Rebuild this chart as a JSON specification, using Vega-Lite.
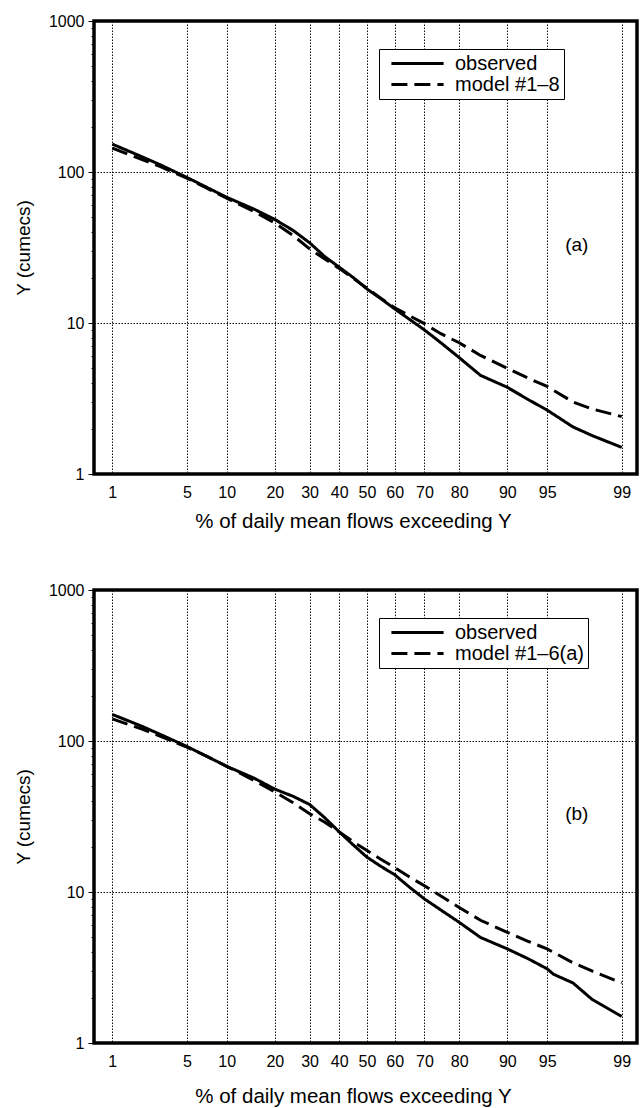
{
  "$schema": "https://vega.github.io/schema/vega-lite/v6.json",
  "padding": {"left": 12, "top": 11, "right": 0, "bottom": 0},
  "background": "white",
  "config": {
    "font": "Liberation Sans",
    "view": {"stroke": "black", "strokeWidth": 3.5},
    "axis": {"labelFont": "Liberation Sans", "titleFont": "Liberation Sans", "labelColor": "black", "titleColor": "black", "titleFontWeight": "normal", "labelFontSize": 16, "titleFontSize": 19, "domain": false},
    "legend": {"title": null, "orient": "none", "legendX": 285, "legendY": 28, "strokeColor": "black", "fillColor": "white", "padding": 4, "labelFontSize": 20, "labelColor": "black", "labelFont": "Liberation Sans", "symbolType": "M-2.9,0L2.9,0", "symbolSize": 324, "symbolStrokeWidth": 3, "symbolStrokeColor": "black", "symbolOffset": 24, "labelOffset": 27, "rowPadding": 0}
  },
  "datasets": {
    "flows": [
      {"panel": "a", "series": "observed", "pct": 1, "q": 153},
      {"panel": "a", "series": "observed", "pct": 2, "q": 126},
      {"panel": "a", "series": "observed", "pct": 3, "q": 111},
      {"panel": "a", "series": "observed", "pct": 5, "q": 92},
      {"panel": "a", "series": "observed", "pct": 7, "q": 80},
      {"panel": "a", "series": "observed", "pct": 10, "q": 68},
      {"panel": "a", "series": "observed", "pct": 15, "q": 57},
      {"panel": "a", "series": "observed", "pct": 20, "q": 48.5},
      {"panel": "a", "series": "observed", "pct": 25, "q": 41},
      {"panel": "a", "series": "observed", "pct": 30, "q": 34},
      {"panel": "a", "series": "observed", "pct": 35, "q": 27.5},
      {"panel": "a", "series": "observed", "pct": 40, "q": 23.4},
      {"panel": "a", "series": "observed", "pct": 45, "q": 20},
      {"panel": "a", "series": "observed", "pct": 50, "q": 16.8},
      {"panel": "a", "series": "observed", "pct": 55, "q": 14.5},
      {"panel": "a", "series": "observed", "pct": 60, "q": 12.4},
      {"panel": "a", "series": "observed", "pct": 65, "q": 10.6},
      {"panel": "a", "series": "observed", "pct": 70, "q": 9.0},
      {"panel": "a", "series": "observed", "pct": 75, "q": 7.4},
      {"panel": "a", "series": "observed", "pct": 80, "q": 5.9},
      {"panel": "a", "series": "observed", "pct": 85, "q": 4.5},
      {"panel": "a", "series": "observed", "pct": 90, "q": 3.75},
      {"panel": "a", "series": "observed", "pct": 93, "q": 3.1},
      {"panel": "a", "series": "observed", "pct": 95, "q": 2.65},
      {"panel": "a", "series": "observed", "pct": 97, "q": 2.05},
      {"panel": "a", "series": "observed", "pct": 98, "q": 1.8},
      {"panel": "a", "series": "observed", "pct": 99, "q": 1.5},
      {"panel": "a", "series": "model #1–8", "pct": 1, "q": 144},
      {"panel": "a", "series": "model #1–8", "pct": 2, "q": 121},
      {"panel": "a", "series": "model #1–8", "pct": 3, "q": 108},
      {"panel": "a", "series": "model #1–8", "pct": 5, "q": 91},
      {"panel": "a", "series": "model #1–8", "pct": 7, "q": 79},
      {"panel": "a", "series": "model #1–8", "pct": 10, "q": 67},
      {"panel": "a", "series": "model #1–8", "pct": 15, "q": 55},
      {"panel": "a", "series": "model #1–8", "pct": 20, "q": 46},
      {"panel": "a", "series": "model #1–8", "pct": 25, "q": 38},
      {"panel": "a", "series": "model #1–8", "pct": 30, "q": 31},
      {"panel": "a", "series": "model #1–8", "pct": 35, "q": 26.5},
      {"panel": "a", "series": "model #1–8", "pct": 40, "q": 23},
      {"panel": "a", "series": "model #1–8", "pct": 45, "q": 19.8},
      {"panel": "a", "series": "model #1–8", "pct": 50, "q": 17},
      {"panel": "a", "series": "model #1–8", "pct": 55, "q": 14.6},
      {"panel": "a", "series": "model #1–8", "pct": 60, "q": 12.6},
      {"panel": "a", "series": "model #1–8", "pct": 65, "q": 11.2},
      {"panel": "a", "series": "model #1–8", "pct": 70, "q": 9.9},
      {"panel": "a", "series": "model #1–8", "pct": 75, "q": 8.5},
      {"panel": "a", "series": "model #1–8", "pct": 80, "q": 7.4},
      {"panel": "a", "series": "model #1–8", "pct": 85, "q": 6.1},
      {"panel": "a", "series": "model #1–8", "pct": 90, "q": 5.0},
      {"panel": "a", "series": "model #1–8", "pct": 93, "q": 4.3},
      {"panel": "a", "series": "model #1–8", "pct": 95, "q": 3.8},
      {"panel": "a", "series": "model #1–8", "pct": 97, "q": 3.0},
      {"panel": "a", "series": "model #1–8", "pct": 98, "q": 2.7},
      {"panel": "a", "series": "model #1–8", "pct": 99, "q": 2.4},
      {"panel": "b", "series": "observed", "pct": 1, "q": 150},
      {"panel": "b", "series": "observed", "pct": 2, "q": 125},
      {"panel": "b", "series": "observed", "pct": 3, "q": 110},
      {"panel": "b", "series": "observed", "pct": 5, "q": 92},
      {"panel": "b", "series": "observed", "pct": 7, "q": 80},
      {"panel": "b", "series": "observed", "pct": 10, "q": 68},
      {"panel": "b", "series": "observed", "pct": 15, "q": 57},
      {"panel": "b", "series": "observed", "pct": 20, "q": 48},
      {"panel": "b", "series": "observed", "pct": 25, "q": 43},
      {"panel": "b", "series": "observed", "pct": 30, "q": 38},
      {"panel": "b", "series": "observed", "pct": 35, "q": 31},
      {"panel": "b", "series": "observed", "pct": 40, "q": 25},
      {"panel": "b", "series": "observed", "pct": 45, "q": 20.5},
      {"panel": "b", "series": "observed", "pct": 50, "q": 17},
      {"panel": "b", "series": "observed", "pct": 55, "q": 14.8},
      {"panel": "b", "series": "observed", "pct": 60, "q": 13},
      {"panel": "b", "series": "observed", "pct": 65, "q": 10.8},
      {"panel": "b", "series": "observed", "pct": 70, "q": 9.0},
      {"panel": "b", "series": "observed", "pct": 75, "q": 7.6},
      {"panel": "b", "series": "observed", "pct": 80, "q": 6.3},
      {"panel": "b", "series": "observed", "pct": 85, "q": 5.0},
      {"panel": "b", "series": "observed", "pct": 90, "q": 4.2},
      {"panel": "b", "series": "observed", "pct": 93, "q": 3.6},
      {"panel": "b", "series": "observed", "pct": 95, "q": 3.1},
      {"panel": "b", "series": "observed", "pct": 95.5, "q": 2.85},
      {"panel": "b", "series": "observed", "pct": 97, "q": 2.5},
      {"panel": "b", "series": "observed", "pct": 98, "q": 1.95},
      {"panel": "b", "series": "observed", "pct": 99, "q": 1.5},
      {"panel": "b", "series": "model #1–6(a)", "pct": 1, "q": 140},
      {"panel": "b", "series": "model #1–6(a)", "pct": 2, "q": 120},
      {"panel": "b", "series": "model #1–6(a)", "pct": 3, "q": 107},
      {"panel": "b", "series": "model #1–6(a)", "pct": 5, "q": 91},
      {"panel": "b", "series": "model #1–6(a)", "pct": 7, "q": 80},
      {"panel": "b", "series": "model #1–6(a)", "pct": 10, "q": 68},
      {"panel": "b", "series": "model #1–6(a)", "pct": 15, "q": 55},
      {"panel": "b", "series": "model #1–6(a)", "pct": 20, "q": 46},
      {"panel": "b", "series": "model #1–6(a)", "pct": 25, "q": 39},
      {"panel": "b", "series": "model #1–6(a)", "pct": 30, "q": 33},
      {"panel": "b", "series": "model #1–6(a)", "pct": 35, "q": 29},
      {"panel": "b", "series": "model #1–6(a)", "pct": 40, "q": 25},
      {"panel": "b", "series": "model #1–6(a)", "pct": 45, "q": 21.5},
      {"panel": "b", "series": "model #1–6(a)", "pct": 50, "q": 18.8},
      {"panel": "b", "series": "model #1–6(a)", "pct": 55, "q": 16.5},
      {"panel": "b", "series": "model #1–6(a)", "pct": 60, "q": 14.5},
      {"panel": "b", "series": "model #1–6(a)", "pct": 65, "q": 12.6},
      {"panel": "b", "series": "model #1–6(a)", "pct": 70, "q": 11.0},
      {"panel": "b", "series": "model #1–6(a)", "pct": 75, "q": 9.4},
      {"panel": "b", "series": "model #1–6(a)", "pct": 80, "q": 7.9},
      {"panel": "b", "series": "model #1–6(a)", "pct": 85, "q": 6.5},
      {"panel": "b", "series": "model #1–6(a)", "pct": 90, "q": 5.4},
      {"panel": "b", "series": "model #1–6(a)", "pct": 93, "q": 4.7},
      {"panel": "b", "series": "model #1–6(a)", "pct": 95, "q": 4.2},
      {"panel": "b", "series": "model #1–6(a)", "pct": 97, "q": 3.4},
      {"panel": "b", "series": "model #1–6(a)", "pct": 98, "q": 3.0},
      {"panel": "b", "series": "model #1–6(a)", "pct": 99, "q": 2.5}
    ]
  },
  "spacing": 46,
  "resolve": {"scale": {"strokeDash": "independent"}, "legend": {"strokeDash": "independent"}},
  "vconcat": [
    {
      "width": 543,
      "height": 453,
      "layer": [
        {
          "data": {"name": "flows"},
          "transform": [{"filter": "datum.panel == 'a'"}],
          "mark": {"type": "line", "color": "black", "strokeWidth": 3},
          "encoding": {
            "x": {"field": "pct", "type": "quantitative",
              "scale": {"type": "linear", "zero": false, "nice": false,
                "domain": [0.62, 1, 2, 3, 5, 7, 10, 15, 20, 25, 30, 35, 40, 45, 50, 55, 60, 65, 70, 75, 80, 85, 90, 93, 95, 97, 98, 99, 99.317],
                "range": [0, 18.27, 48.12, 67.05, 92.88, 111.4, 132.66, 159.51, 180.84, 199.14, 215.58, 230.81, 245.26, 259.24, 273, 286.76, 300.74, 315.19, 330.42, 346.86, 365.16, 386.49, 413.34, 434.6, 453.12, 478.95, 497.88, 527.73, 543]},
              "axis": {"values": [1, 5, 10, 20, 30, 40, 50, 60, 70, 80, 90, 95, 99], "ticks": false, "labelPadding": 10, "labelFlush": false, "labelOverlap": false, "title": "% of daily mean flows exceeding Y", "titleFontSize": 20.5, "titleX": 259, "titleAlign": "center", "titlePadding": 11, "grid": true, "gridDash": [1.5, 1.5], "gridColor": "#111", "gridWidth": 1}},
            "y": {"field": "q", "type": "quantitative",
              "scale": {"type": "log", "domain": [1, 1000], "nice": false},
              "axis": {"values": [1, 2, 3, 4, 5, 6, 7, 8, 9, 10, 20, 30, 40, 50, 60, 70, 80, 90, 100, 200, 300, 400, 500, 600, 700, 800, 900, 1000],
                "format": "d", "labelExpr": "indexof([1, 10, 100, 1000], datum.value) >= 0 ? datum.label : ''",
                "tickSize": {"condition": {"test": "indexof([1, 10, 100, 1000], datum.value) >= 0", "value": 6}, "value": 3},
                "tickColor": "black", "labelPadding": 4, "labelFlush": false, "labelOverlap": false,
                "grid": true, "gridDash": [1.5, 1.5], "gridColor": "#111", "gridWidth": 1,
                "gridOpacity": {"condition": {"test": "datum.value == 10 || datum.value == 100", "value": 1}, "value": 0},
                "title": "Y (cumecs)", "titlePadding": 15}},
            "strokeDash": {"field": "series", "type": "nominal",
              "scale": {"domain": ["observed", "model #1–8"], "range": [[1, 0], [16, 7]]}}
          }
        },
        {
          "data": {"values": [{"label": "(a)"}]},
          "mark": {"type": "text", "fontSize": 19, "font": "Liberation Sans", "color": "black"},
          "encoding": {"x": {"datum": 97.2}, "y": {"datum": 33}, "text": {"field": "label"}}
        }
      ]
    },
    {
      "width": 543,
      "height": 453,
      "layer": [
        {
          "data": {"name": "flows"},
          "transform": [{"filter": "datum.panel == 'b'"}],
          "mark": {"type": "line", "color": "black", "strokeWidth": 3},
          "encoding": {
            "x": {"field": "pct", "type": "quantitative",
              "scale": {"type": "linear", "zero": false, "nice": false,
                "domain": [0.62, 1, 2, 3, 5, 7, 10, 15, 20, 25, 30, 35, 40, 45, 50, 55, 60, 65, 70, 75, 80, 85, 90, 93, 95, 97, 98, 99, 99.317],
                "range": [0, 18.27, 48.12, 67.05, 92.88, 111.4, 132.66, 159.51, 180.84, 199.14, 215.58, 230.81, 245.26, 259.24, 273, 286.76, 300.74, 315.19, 330.42, 346.86, 365.16, 386.49, 413.34, 434.6, 453.12, 478.95, 497.88, 527.73, 543]},
              "axis": {"values": [1, 5, 10, 20, 30, 40, 50, 60, 70, 80, 90, 95, 99], "ticks": false, "labelPadding": 10, "labelFlush": false, "labelOverlap": false, "title": "% of daily mean flows exceeding Y", "titleFontSize": 20.5, "titleX": 259, "titleAlign": "center", "titlePadding": 17, "grid": true, "gridDash": [1.5, 1.5], "gridColor": "#111", "gridWidth": 1}},
            "y": {"field": "q", "type": "quantitative",
              "scale": {"type": "log", "domain": [1, 1000], "nice": false},
              "axis": {"values": [1, 2, 3, 4, 5, 6, 7, 8, 9, 10, 20, 30, 40, 50, 60, 70, 80, 90, 100, 200, 300, 400, 500, 600, 700, 800, 900, 1000],
                "format": "d", "labelExpr": "indexof([1, 10, 100, 1000], datum.value) >= 0 ? datum.label : ''",
                "tickSize": {"condition": {"test": "indexof([1, 10, 100, 1000], datum.value) >= 0", "value": 6}, "value": 3},
                "tickColor": "black", "labelPadding": 4, "labelFlush": false, "labelOverlap": false,
                "grid": true, "gridDash": [1.5, 1.5], "gridColor": "#111", "gridWidth": 1,
                "gridOpacity": {"condition": {"test": "datum.value == 10 || datum.value == 100", "value": 1}, "value": 0},
                "title": "Y (cumecs)", "titlePadding": 15}},
            "strokeDash": {"field": "series", "type": "nominal",
              "scale": {"domain": ["observed", "model #1–6(a)"], "range": [[1, 0], [16, 7]]}}
          }
        },
        {
          "data": {"values": [{"label": "(b)"}]},
          "mark": {"type": "text", "fontSize": 19, "font": "Liberation Sans", "color": "black"},
          "encoding": {"x": {"datum": 97.2}, "y": {"datum": 33}, "text": {"field": "label"}}
        }
      ]
    }
  ]
}
